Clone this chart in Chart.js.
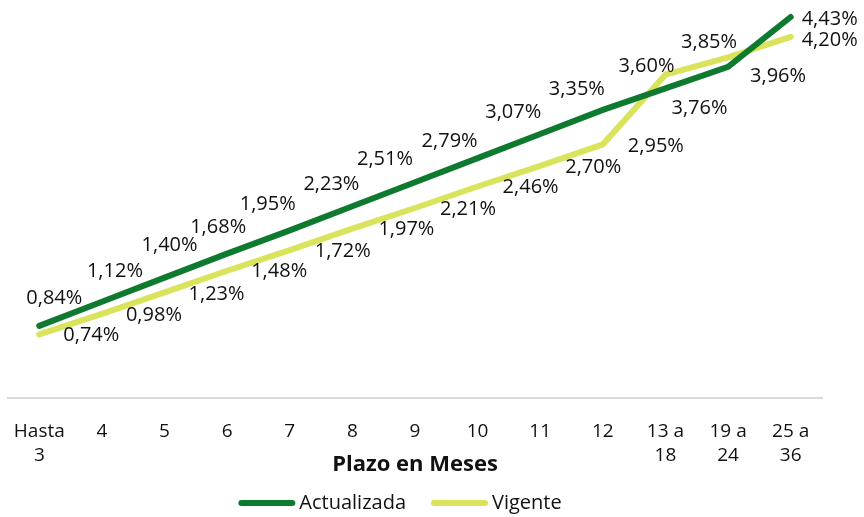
<!DOCTYPE html>
<html>
<head>
<meta charset="utf-8">
<script src="https://cdn.jsdelivr.net/npm/chart.js@4"></script>
<style>
  html, body { margin: 0; padding: 0; background: #fff; }
  #wrap { width: 864px; height: 517px; }
</style>
</head>
<body>
<div id="wrap"><canvas id="canvas" width="864" height="517"></canvas></div>
<script>
const labels = [['Hasta', '3'], '4', '5', '6', '7', '8', '9', '10', '11', '12',
    ['13 a', '18'], ['19 a', '24'], ['25 a', '36']]

const actualizada = [0.84, 1.12, 1.40, 1.68, 1.95, 2.23, 2.51, 2.79, 3.07, 3.35, 3.60, 3.85, 4.43]
const vigente = [0.74, 0.98, 1.23, 1.48, 1.72, 1.97, 2.21, 2.46, 2.70, 2.95, 3.76, 3.96, 4.20]

// where each value label sits relative to its point (like the Excel layout)
const actOffsets = [[15, -28], [13, -30], [5, -32], [-9, -26], [-22, -26], [-21, -22], [-30, -23],
    [-28, -17], [-27, -22], [-26, -21], [-19, -22], [-19, -25], [39, 2]]
const vigOffsets = [[52, 1], [52, 1], [52, 2], [52, 1], [53, 1], [54, 1], [53, 1],
    [53, 1], [53, 1], [53, 2], [34, 34], [50, 19], [39, 3]]

const fmt = v => v.toFixed(2).replace('.', ',') + '%'

const valueLabels = {
    id: 'valueLabels',
    afterDatasetsDraw(chart) {
        const ctx = chart.ctx
        ctx.save()
        ctx.font = '20px "Open Sans"'
        ctx.fillStyle = '#111'
        ctx.textAlign = 'center'
        ctx.textBaseline = 'middle'
        chart.data.datasets.forEach((ds, i) => {
            const meta = chart.getDatasetMeta(i)
            meta.data.forEach((pt, j) => {
                const off = ds.labelOffsets[j]
                ctx.fillText(fmt(ds.data[j]), pt.x + off[0], pt.y + off[1])
            })
        })
        ctx.restore()
    }
}

// Excel-style legend: short thick line, text right next to it
const lineLegend = {
    id: 'lineLegend',
    afterDraw(chart) {
        const ctx = chart.ctx
        const sets = chart.data.datasets
        const lineLen = 57, textGap = 4, itemGap = 25
        ctx.save()
        ctx.font = '20px "Open Sans"'
        ctx.textBaseline = 'middle'
        const widths = sets.map(ds => lineLen + textGap + ctx.measureText(ds.label).width)
        const total = widths.reduce((a, b) => a + b, 0) + itemGap * (sets.length - 1)
        let x = 400 - total / 2
        const y = 503
        sets.forEach((ds, i) => {
            ctx.strokeStyle = ds.borderColor
            ctx.lineWidth = 6
            ctx.lineCap = 'round'
            ctx.beginPath()
            ctx.moveTo(x + 3, y)
            ctx.lineTo(x + lineLen - 3, y)
            ctx.stroke()
            ctx.fillStyle = '#111'
            ctx.fillText(ds.label, x + lineLen + textGap, y)
            x += widths[i] + itemGap
        })
        ctx.restore()
    }
}

const data = {
    labels: labels,
    datasets: [
        {
            label: 'Actualizada',
            data: actualizada,
            borderColor: '#0e7a30',
            backgroundColor: '#0e7a30',
            borderWidth: 6,
            pointRadius: 0,
            borderCapStyle: 'round',
            labelOffsets: actOffsets,
        },
        {
            label: 'Vigente',
            data: vigente,
            borderColor: '#d9e45c',
            backgroundColor: '#d9e45c',
            borderWidth: 6,
            pointRadius: 0,
            borderCapStyle: 'round',
            labelOffsets: vigOffsets,
        },
    ],
}

const config = {
    type: 'line',
    data: data,
    plugins: [valueLabels, lineLegend],
    options: {
        responsive: false,
        animation: false,
        layout: { padding: { left: 8, right: 42, top: 11, bottom: 39 } },
        plugins: {
            tooltip: { enabled: false },
            legend: { display: false },
        },
        scales: {
            x: {
                offset: true,
                grid: { display: false, tickLength: 22 },
                border: { color: '#d9d9d9', width: 2 },
                ticks: {
                    font: { family: 'Open Sans', size: 19, lineHeight: 1.25 },
                    color: '#111',
                    padding: 0,
                    maxRotation: 0,
                    autoSkip: false,
                },
                title: {
                    display: true,
                    text: 'Plazo en Meses',
                    font: { family: 'Open Sans', size: 22, weight: 'bold' },
                    color: '#111',
                    padding: { top: -16, bottom: 0 },
                },
            },
            y: {
                display: false,
                min: 0,
                max: 4.5,
            },
        },
    },
}

const canvas = document.getElementById('canvas')
const chart = new Chart(canvas, config)
</script>
</body>
</html>
